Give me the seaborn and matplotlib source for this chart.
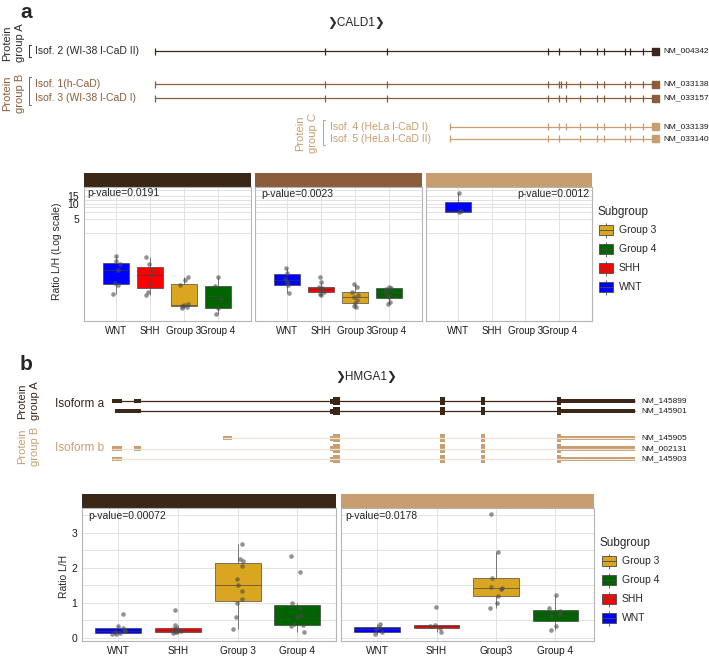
import numpy as np
import pandas as pd
import matplotlib.pyplot as plt
import seaborn as sns
from matplotlib.patches import Rectangle
from matplotlib.ticker import FixedLocator, NullFormatter

W, H = 709, 656

subgroups = ["WNT", "SHH", "Group 3", "Group 4"]
legend_order = ["Group 3", "Group 4", "SHH", "WNT"]
palette = {"WNT": "#0000ff", "SHH": "#ff0000", "Group 3": "#daa520", "Group 4": "#006400"}

# CALD1 ratios L/H per protein group (log scale panel)
a1_wnt = [0.145, 0.22, 0.25, 0.455, 0.6, 0.68, 0.88]
a1_shh = [0.14, 0.16, 0.24, 0.355, 0.45, 0.59, 0.83]
a1_g3 = [0.075, 0.08, 0.085, 0.088, 0.09, 0.22, 0.28, 0.33]
a1_g4 = [0.057, 0.075, 0.115, 0.21, 0.32]
a2_wnt = [0.152, 0.22, 0.26, 0.3, 0.4, 0.49]
a2_shh = [0.14, 0.15, 0.165, 0.18, 0.19, 0.198, 0.2, 0.26, 0.32]
a2_g3 = [0.081, 0.085, 0.095, 0.11, 0.126, 0.14, 0.16, 0.2, 0.236]
a2_g4 = [0.092, 0.1, 0.128, 0.14, 0.16, 0.19, 0.195, 0.2]
a3_wnt = [6.8, 7.3, 17.2]
pvals_a = ["p-value=0.0191", "p-value=0.0023", "p-value=0.0012"]

# HMGA1 ratios L/H per protein group
b1_wnt = [0.09, 0.1, 0.12, 0.15, 0.18, 0.2, 0.28, 0.33, 0.68]
b1_shh = [0.14, 0.15, 0.155, 0.2, 0.21, 0.26, 0.28, 0.35, 0.78]
b1_g3 = [0.25, 0.6, 1.0, 1.1, 1.33, 1.52, 1.67, 2.05, 2.2, 2.25, 2.69]
b1_g4 = [0.16, 0.33, 0.35, 0.4, 0.6, 0.66, 0.85, 0.98, 1.87, 2.34]
b2_wnt = [0.1, 0.17, 0.25, 0.31, 0.38]
b2_shh = [0.15, 0.27, 0.33, 0.37, 0.89]
b2_g3 = [0.84, 1.0, 1.2, 1.38, 1.42, 1.45, 1.72, 2.46, 3.53]
b2_g4 = [0.22, 0.34, 0.62, 0.67, 0.75, 0.86, 1.22]
pvals_b = ["p-value=0.00072", "p-value=0.0178"]
ticks_b2 = ["WNT", "SHH", "Group3", "Group 4"]

# CALD1 transcript structure (drawing units)
cald1_names = ["Isof. 2 (WI-38 l-CaD II)", "Isof. 1(h-CaD)", "Isof. 3 (WI-38 l-CaD I)",
               "Isof. 4 (HeLa l-CaD I)", "Isof. 5 (HeLa l-CaD II)"]
cald1_ids = ["NM_004342", "NM_033138", "NM_033157", "NM_033139", "NM_033140"]
cald1_start = [155, 155, 155, 450, 450]
cald1_exons = [
    [325, 387, 548, 559, 580, 597, 604, 625, 630, 643],
    [325, 387, 548, 559, 561, 566, 580, 597, 604, 625, 630, 643],
    [325, 387, 548, 559, 566, 580, 597, 604, 625, 630, 643],
    [548, 559, 566, 580, 597, 604, 625, 630, 643],
    [548, 559, 580, 597, 604, 625, 630, 643],
]
cald1_rows = [51, 84, 98, 126.5, 138.5]

# HMGA1 transcript structure: (start, end, half height)
hmga_ids = ["NM_145899", "NM_145901", "NM_145905", "NM_002131", "NM_145903"]
hmga_rows = [401, 411, 438, 448.5, 459]
hmga_tail = [(330, 333, 2.5), (333, 340, 4.2), (439.5, 445, 4.2), (481, 484.5, 4.2),
             (557, 560.5, 4.2), (560.5, 635, 2.4)]
hmga_head = [
    [(111.5, 121.5, 2.2), (134, 141, 2.2)],
    [(115, 141, 2.4)],
    [(222.5, 231.5, 2.2)],
    [(111.5, 121.5, 2.2), (134, 141, 2.2)],
    [(111.5, 121.5, 2.2)],
]

dark = "#3b2718"
mid = "#8b5d3b"
light = "#c89e70"

sns.set_style("white")
plt.rcParams["font.family"] = ["Liberation Sans", "DejaVu Sans"]
np.random.seed(7)

fig = plt.figure(figsize=(W / 100, H / 100), dpi=100)


def px_axes(x0, y0, x1, y1):
    return fig.add_axes([x0 / W, 1 - y1 / H, (x1 - x0) / W, (y1 - y0) / H])


def facet(rect, strip_color, lists, ticklabels, log, ylim, xlim, first, tick_fs):
    ax = px_axes(*rect)
    rows = [(g, v) for g, vals in zip(subgroups, lists) for v in vals]
    df = pd.DataFrame(rows, columns=["subgroup", "ratio"])
    kw = dict(log_scale=(False, True)) if log else {}
    sns.boxplot(data=df, x="subgroup", y="ratio", hue="subgroup", order=subgroups,
                hue_order=subgroups, palette=palette, saturation=1, width=0.77,
                linecolor="#3a3a3a", linewidth=0.45, showfliers=False, showcaps=False,
                legend=False, ax=ax, **kw)
    sns.stripplot(data=df, x="subgroup", y="ratio", order=subgroups, color="#4a4a4a",
                  alpha=0.6, size=3.3, jitter=0.12, linewidth=0, ax=ax, **kw)
    ax.set_xlim(*xlim)
    ax.set_ylim(*ylim)
    ax.set_xlabel("")
    ax.set_ylabel("")
    ax.set_xticks(range(4))
    ax.set_xticklabels(ticklabels, fontsize=tick_fs, color="#1a1a1a")
    if log:
        ax.set_yticks([5, 10, 15])
        ax.set_yticklabels(["5", "10", "15"])
        ax.yaxis.set_minor_locator(FixedLocator([2.6, 7.07, 8.7, 12.2, 19.5]))
    else:
        ax.set_yticks([0, 1, 2, 3])
        ax.set_yticklabels(["0", "1", "2", "3"])
        ax.yaxis.set_minor_locator(FixedLocator([0.5, 1.5, 2.5, 3.5]))
    ax.yaxis.set_minor_formatter(NullFormatter())
    ax.grid(which="both", axis="y", color="#e2e2e2", lw=0.7)
    ax.grid(which="major", axis="x", color="#e2e2e2", lw=0.7)
    ax.set_axisbelow(True)
    ax.tick_params(axis="x", length=2.5, color="#999999", pad=0.8)
    ax.tick_params(axis="y", which="major", length=2.5, color="#999999", pad=1,
                   labelsize=7.5, labelcolor="#1a1a1a")
    ax.tick_params(axis="y", which="minor", length=0)
    if not first:
        ax.tick_params(axis="y", left=False, labelleft=False)
    for s in ax.spines.values():
        s.set_color("#b5b5b5")
        s.set_linewidth(0.8)
    hfrac = 14.5 / (rect[3] - rect[1])
    ax.add_patch(Rectangle((0, 1), 1, hfrac, transform=ax.transAxes, clip_on=False,
                           facecolor=strip_color, edgecolor="none"))
    return ax


xlim_a = (-0.94, 3.97)
ylim_a = (0.0414, 22.5)
facet((84, 187, 251, 321), dark, [a1_wnt, a1_shh, a1_g3, a1_g4], subgroups, True, ylim_a, xlim_a, True, 7)
facet((255, 187, 422, 321), mid, [a2_wnt, a2_shh, a2_g3, a2_g4], subgroups, True, ylim_a, xlim_a, False, 7)
facet((426, 187, 592, 321), light, [a3_wnt, [], [], []], subgroups, True, ylim_a, xlim_a, False, 7)

xlim_b = (-0.61, 3.65)
ylim_b = (-0.097, 3.714)
facet((82, 508, 336, 641), dark, [b1_wnt, b1_shh, b1_g3, b1_g4], subgroups, False, ylim_b, xlim_b, True, 7.2)
facet((341, 508, 594, 641), light, [b2_wnt, b2_shh, b2_g3, b2_g4], ticks_b2, False, ylim_b, xlim_b, False, 7.2)

# overlay for gene diagrams, labels and legends
ov = fig.add_axes([0, 0, 1, 1])
ov.set_xlim(0, W)
ov.set_ylim(H, 0)
ov.axis("off")
ov.set_zorder(5)

ov.text(20, 12, "a", fontsize=15, fontweight="bold", va="center")
ov.text(20, 364, "b", fontsize=15, fontweight="bold", va="center")
ov.text(356, 23, "❯CALD1❯", fontsize=8.5, ha="center", va="center",
        family=["Liberation Sans", "DejaVu Sans"])
ov.text(366, 377, "❯HMGA1❯", fontsize=8.5, ha="center", va="center",
        family=["Liberation Sans", "DejaVu Sans"])

# CALD1 transcripts
row_colors = [dark, mid, mid, light, light]
for i, y in enumerate(cald1_rows):
    c = row_colors[i]
    ov.hlines(y, cald1_start[i], 652, color=c, lw=0.9)
    ov.vlines([cald1_start[i]] + cald1_exons[i], y - 3.5, y + 3.5, color=c, lw=0.9)
    ov.add_patch(Rectangle((652, y - 3.5), 7, 7, color=c))
    ov.text(663, y, cald1_ids[i], fontsize=6, va="center", color="#1a1a1a")
label_x = [35, 35, 35, 330, 330]
text_colors = ["#2a2a2a", mid, mid, light, light]
for i, y in enumerate(cald1_rows):
    ov.text(label_x[i], y, cald1_names[i], fontsize=7.5, va="center", color=text_colors[i])


def bracket(x, y0, y1, c):
    ov.plot([x + 2, x, x, x + 2], [y0, y0, y1, y1], color=c, lw=0.7)


bracket(29, 45, 57, "#2a2a2a")
bracket(29, 77, 105, mid)
bracket(323, 120, 145, light)


def group_label(x, y, name, c):
    ov.text(x, y, "Protein", rotation=90, fontsize=8, ha="center", va="center", color=c)
    ov.text(x + 13, y, name, rotation=90, fontsize=8, ha="center", va="center", color=c)


group_label(7, 43, "group A", "#2a2a2a")
group_label(7, 93, "group B", mid)
group_label(300, 133, "group C", light)
group_label(22, 401, "group A", dark)
group_label(22, 446, "group B", light)

# HMGA1 transcripts
for i, y in enumerate(hmga_rows):
    isoform_a = i < 2
    block_c = dark if isoform_a else light
    line_c = dark if isoform_a else "#efe4d6"
    ov.hlines(y, hmga_head[i][0][0], 635, color=line_c, lw=0.9)
    for x0, x1, h in hmga_head[i] + hmga_tail:
        ov.add_patch(Rectangle((x0, y - h), x1 - x0, 2 * h, color=block_c, lw=0))
    ov.text(641, y, hmga_ids[i], fontsize=6, va="center", color="#1a1a1a")
ov.text(55, 404, "Isoform a", fontsize=8.5, va="center", color=dark)
ov.text(55, 448, "Isoform b", fontsize=8.5, va="center", color=light)

# p-values
ov.text(87, 193, pvals_a[0], fontsize=7.5, va="center")
ov.text(261, 194, pvals_a[1], fontsize=7.5, va="center")
ov.text(589, 194, pvals_a[2], fontsize=7.5, va="center", ha="right")
ov.text(88, 516, pvals_b[0], fontsize=7.5, va="center")
ov.text(345, 516, pvals_b[1], fontsize=7.5, va="center")

# axis titles
ov.text(57, 251, "Ratio L/H (Log scale)", rotation=90, fontsize=7.5, ha="center", va="center")
ov.text(64, 576, "Ratio L/H", rotation=90, fontsize=7.5, ha="center", va="center")


def legend(x, y_title, ys):
    ov.text(x, y_title, "Subgroup", fontsize=8.5, va="center")
    for g, y in zip(legend_order, ys):
        ov.add_patch(Rectangle((x + 2, y - 5), 14, 10, facecolor=palette[g],
                               edgecolor="#4a4a4a", lw=0.6))
        ov.hlines(y, x + 2, x + 16, color="#4a4a4a", lw=0.6)
        ov.vlines(x + 9, y - 7.5, y - 5, color="#4a4a4a", lw=0.6)
        ov.vlines(x + 9, y + 5, y + 7.5, color="#4a4a4a", lw=0.6)
        ov.text(x + 22, y, g, fontsize=7.5, va="center")


legend(597, 212, [230, 249, 268, 287])
legend(600, 543, [561, 580, 599, 618])

fig.savefig("out.png", dpi=100)
